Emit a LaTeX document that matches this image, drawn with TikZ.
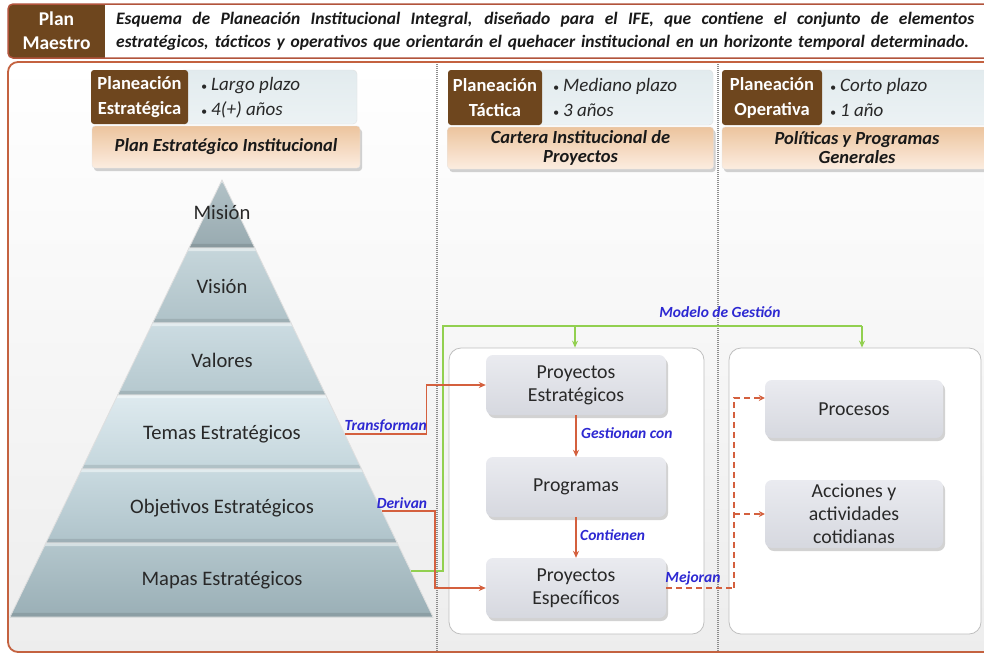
\documentclass[tikz,border=0pt]{standalone}
\usepackage{fontspec}
\setmainfont{Carlito}
\usetikzlibrary{calc,shadows,arrows.meta}

\definecolor{brn}{RGB}{110,70,30}
\definecolor{hdrborder}{RGB}{178,84,60}
\definecolor{mainborder}{RGB}{196,98,64}
\definecolor{tilec}{RGB}{226,235,238}
\definecolor{tiled}{RGB}{236,242,244}
\definecolor{peachtop}{RGB}{236,196,158}
\definecolor{peachbot}{RGB}{252,237,224}
\definecolor{lblue}{RGB}{45,40,210}
\definecolor{redc}{RGB}{212,96,62}
\definecolor{grn}{RGB}{146,208,80}
\definecolor{boxtop}{RGB}{234,235,240}
\definecolor{boxbot}{RGB}{214,216,223}
\definecolor{txt}{RGB}{40,40,40}
\definecolor{pa1}{RGB}{178,194,199}\definecolor{pb1}{RGB}{152,170,176}
\definecolor{pa2}{RGB}{198,214,219}\definecolor{pb2}{RGB}{175,194,200}
\definecolor{pa3}{RGB}{204,220,226}\definecolor{pb3}{RGB}{181,200,206}
\definecolor{pa4}{RGB}{222,234,239}\definecolor{pb4}{RGB}{196,214,220}
\definecolor{pa5}{RGB}{201,218,224}\definecolor{pb5}{RGB}{175,195,202}
\definecolor{pa6}{RGB}{179,198,204}\definecolor{pb6}{RGB}{154,175,182}

\newcommand\fsz[2]{\fontsize{#1}{#2}\selectfont}
\newcommand\smbul{{\fsz{12}{12}\textbullet}\hspace{4pt}}

\tikzset{
  brownlbl/.style={fill=brn, text=white, font=\bfseries\fsz{18.5}{25}, align=center, inner sep=0pt, rounded corners=3pt},
  lighttile/.style={top color=tilec, bottom color=tiled, draw=black!12, rounded corners=4pt, inner sep=0pt},
  bullets/.style={anchor=west, align=left, font=\itshape\fsz{19}{25}, text=txt, inner sep=0pt},
  peach/.style={top color=peachtop, bottom color=peachbot, draw=black!10, rounded corners=3pt, align=center,
     font=\bfseries\itshape\fsz{18.5}{19}, text=black!90, inner sep=0pt,
     drop shadow={shadow xshift=2pt, shadow yshift=-3pt, opacity=0.35}},
  plbl/.style={font=\fsz{20.6}{24}, text=txt, inner sep=0pt},
  bx/.style={rounded corners=7pt, top color=boxtop, bottom color=boxbot, draw=none,
     drop shadow={shadow xshift=2pt, shadow yshift=-3pt, opacity=0.35},
     align=center, font=\fsz{19.8}{23}, text=txt, inner sep=0pt},
  panel/.style={fill=white, draw=black!25, line width=0.8pt, rounded corners=12pt, inner sep=0pt},
  lbl/.style={font=\bfseries\itshape\fsz{15.5}{17}, text=lblue, inner sep=1pt},
  redarr/.style={draw=redc, line width=1.5pt, -{Stealth[length=7pt,width=6pt]}},
  reddash/.style={draw=redc, line width=2pt, dash pattern=on 6pt off 4pt},
  grnline/.style={draw=grn, line width=1.5pt},
  grnarr/.style={draw=grn, line width=1.5pt, -{Stealth[length=7pt,width=6pt]}},
  dotl/.style={draw=black!45, line width=1.2pt, dash pattern=on 1pt off 1pt}
}

\begin{document}
\begin{tikzpicture}[x=1pt,y=-1pt]
\clip (0,0) rectangle (984,654);
\fill[white] (0,0) rectangle (984,654);

% header
\begin{scope}
  \clip[rounded corners=5pt] (8,4) rectangle (1000,58);
  \fill[white] (8,4) rectangle (1000,58);
  \fill[brn] (8,4) rectangle (105,58);
\end{scope}
\draw[hdrborder, line width=1.5pt, rounded corners=5pt] (8,4) rectangle (1000,58);
\node[font=\bfseries\fsz{19.5}{24}, text=white, align=center, inner sep=0pt] (pm) at (56.5,31) {Plan\\Maestro};
\node[anchor=west, font=\bfseries\itshape\fsz{17.5}{23}, text=black!90, align=left, inner sep=0pt] (desc) at (116,31.5)
 {\makebox[858pt][s]{Esquema de Planeación Institucional Integral, diseñado para el IFE, que contiene el conjunto de elementos}\\
  \makebox[853pt][s]{estratégicos, tácticos y operativos que orientarán el quehacer institucional en un horizonte temporal determinado.}};

% main frame
\draw[mainborder, line width=1.8pt, rounded corners=10pt, top color=white, bottom color=black!7] (8,62) rectangle (1000,652);

% dotted separators
\draw[dotl] (437,64) -- (437,651);
\draw[dotl] (718,64) -- (718,651);

% top tiles: left
\node[lighttile, minimum width=177pt, minimum height=54pt] (lt1) at (268.5,97) {};
\node[brownlbl, minimum width=97pt, minimum height=54pt] (pe) at (139.5,97) {Planeación\\Estratégica};
\node[bullets] (b1) at (201,97.5) {\smbul Largo plazo\\\smbul 4(+) años};
\node[peach, minimum width=268pt, minimum height=42pt] (pei) at (226,147) {Plan Estratégico Institucional};

% middle tiles
\node[lighttile, minimum width=178pt, minimum height=55pt] (lt2) at (624,97.5) {};
\node[brownlbl, minimum width=94pt, minimum height=55pt] (pt) at (495,97.5) {Planeación\\Táctica};
\node[bullets] (b2) at (553,97.5) {\smbul Mediano plazo\\\smbul 3 años};
\node[peach, minimum width=266pt, minimum height=42pt] (cip) at (580.5,148) {Cartera Institucional de\\Proyectos};

% right tiles
\node[lighttile, minimum width=175pt, minimum height=55pt] (lt3) at (902,97.5) {};
\node[brownlbl, minimum width=100pt, minimum height=55pt] (po) at (772,97.5) {Planeación\\Operativa};
\node[bullets] (b3) at (830,97.5) {\smbul Corto plazo\\\smbul 1 año};
\node[peach, minimum width=270pt, minimum height=42pt] (ppg) at (857,148) {Políticas y Programas\\Generales};

% pyramid
\coordinate (ap) at (222,180);
\coordinate (bl) at (10,617);
\coordinate (br) at (433,617);
\foreach \fa/\fb/\i in {0/0.1556/1, 0.1556/0.3272/2, 0.3272/0.4920/3, 0.4920/0.6613/4, 0.6613/0.8307/5, 0.8307/1/6}{
  \shade[top color=pa\i, bottom color=pb\i]
    ($(ap)!\fa!(bl)$) -- ($(ap)!\fa!(br)$) -- ($(ap)!\fb!(br)$) -- ($(ap)!\fb!(bl)$) -- cycle;
  \pgfmathsetmacro\fbb{\fb-0.0095}
  \pgfmathsetmacro\fat{\fa+0.007}
  \fill[pb\i!90!black]
    ($(ap)!\fbb!(bl)$) -- ($(ap)!\fbb!(br)$) -- ($(ap)!\fb!(br)$) -- ($(ap)!\fb!(bl)$) -- cycle;
  \fill[pa\i!55!white]
    ($(ap)!\fa!(bl)$) -- ($(ap)!\fa!(br)$) -- ($(ap)!\fat!(br)$) -- ($(ap)!\fat!(bl)$) -- cycle;
  \draw[white!75!gray, line width=0.8pt]
    ($(ap)!\fa!(bl)$) -- ($(ap)!\fa!(br)$) -- ($(ap)!\fb!(br)$) -- ($(ap)!\fb!(bl)$) -- cycle;
}
\node[plbl] (mision) at (222,212) {Misión};
\node[plbl] (vision) at (222,286) {Visión};
\node[plbl] (valores) at (222,360) {Valores};
\node[plbl] (temas) at (222,434) {Temas Estratégicos};
\node[plbl] (objetivos) at (222,508) {Objetivos Estratégicos};
\node[plbl] (mapas) at (222,580) {Mapas Estratégicos};

\coordinate (tS) at ($(ap)!0.5812!(br)$);
\coordinate (dS) at ($(ap)!0.7574!(br)$);
\coordinate (gS) at ($(ap)!0.8947!(br)$);

% panels
\node[panel, minimum width=255pt, minimum height=286pt] (midp) at (576.5,491) {};
\node[panel, minimum width=252pt, minimum height=286pt] (rightp) at (855,491) {};

% boxes
\node[bx, minimum width=180pt, minimum height=60pt] (pest) at (576,385) {Proyectos\\Estratégicos};
\node[bx, minimum width=180pt, minimum height=60pt] (prog) at (576,487) {Programas};
\node[bx, minimum width=180pt, minimum height=60pt] (pesp) at (576,588) {Proyectos\\Específicos};
\node[bx, minimum width=178pt, minimum height=58pt] (proc) at (854,409) {Procesos};
\node[bx, minimum width=178pt, minimum height=68pt] (acc) at (854,514) {Acciones y\\actividades\\cotidianas};

% green modelo de gestion
\coordinate (gM) at (575,326);
\coordinate (gR) at (862,326);
\draw[grnline] (gS) -- ++(32,0) |- (gR);
\draw[grnarr] (gM) -- (gM |- midp.north);
\draw[grnarr] (gR) -- (gR |- rightp.north);
\node[lbl] (mg) at (720,312) {Modelo de Gestión};

% red connectors
\draw[redarr] (tS) -- ++(82,0) |- (pest.west);
\node[lbl, anchor=south east] (tl) at (428,433) {Transforman};
\draw[redarr] (dS) -- ++(53,0) |- (pesp.west);
\node[lbl, anchor=south] (dl) at (402,510) {Derivan};
\draw[redarr] (pest.south) -- (prog.north);
\node[lbl, anchor=west] (gc) at (580,433) {Gestionan con};
\draw[redarr] (prog.south) -- (pesp.north);
\node[lbl, anchor=west] (ct) at (579,535) {Contienen};

% dashed mejoran
\coordinate (dv) at (734,588);
\draw[reddash] (pesp.east) -- (dv);
\draw[reddash, -{Stealth[length=6pt,width=6pt]}] (dv) |- ([yshift=11pt]proc.west);
\draw[reddash, -{Stealth[length=6pt,width=6pt]}] (dv |- acc.west) -- (acc.west);
\node[lbl, anchor=south] (mj) at (693,586) {Mejoran};

\end{tikzpicture}
\end{document}
